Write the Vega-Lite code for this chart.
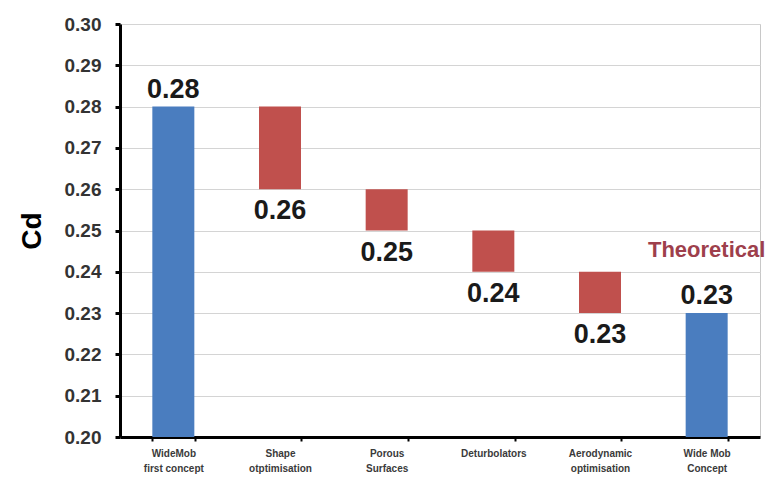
{
  "$schema": "https://vega.github.io/schema/vega-lite/v6.json",
  "autosize": {"type": "none"},
  "width": 640,
  "height": 413,
  "padding": {"left": 120, "top": 24, "right": 22, "bottom": 60},
  "background": "white",
  "config": {
    "view": {"stroke": "#c8c8c8", "strokeWidth": 1},
    "font": "Liberation Sans"
  },
  "data": {
    "values": [
      {"step": "WideMob|first concept", "lo": 0.20, "hi": 0.28, "value": 0.28, "kind": "total"},
      {"step": "Shape|otptimisation", "lo": 0.26, "hi": 0.28, "value": 0.26, "kind": "drop"},
      {"step": "Porous|Surfaces", "lo": 0.25, "hi": 0.26, "value": 0.25, "kind": "drop"},
      {"step": "Deturbolators", "lo": 0.24, "hi": 0.25, "value": 0.24, "kind": "drop"},
      {"step": "Aerodynamic|optimisation", "lo": 0.23, "hi": 0.24, "value": 0.23, "kind": "drop"},
      {"step": "Wide Mob|Concept", "lo": 0.20, "hi": 0.23, "value": 0.23, "kind": "total"}
    ]
  },
  "encoding": {
    "x": {
      "field": "step",
      "type": "nominal",
      "sort": null,
      "scale": {"paddingInner": 0.6, "paddingOuter": 0.3},
      "axis": {
        "title": null,
        "labelAngle": 0,
        "labelExpr": "split(datum.label, '|')",
        "labelFont": "Liberation Sans",
        "labelFontWeight": "bold",
        "labelFontSize": 10,
        "labelLineHeight": 15,
        "labelColor": "#3a3a3a",
        "labelPadding": 7,
        "domainColor": "black",
        "domainWidth": 3,
        "tickBand": "extent",
        "tickColor": "black",
        "tickWidth": 2,
        "tickSize": 4
      }
    }
  },
  "layer": [
    {
      "mark": {"type": "bar", "width": 42},
      "encoding": {
        "y": {
          "field": "lo",
          "type": "quantitative",
          "scale": {"domain": [0.2, 0.3], "zero": false, "nice": false},
          "axis": {
            "title": "Cd",
            "titleFont": "Liberation Sans",
            "titleFontSize": 28,
            "titleFontWeight": "bold",
            "titleColor": "black",
            "titlePadding": 18,
            "values": [0.2, 0.21, 0.22, 0.23, 0.24, 0.25, 0.26, 0.27, 0.28, 0.29, 0.3],
            "format": ".2f",
            "labelFont": "Liberation Sans",
            "labelFontSize": 19,
            "labelFontWeight": "bold",
            "labelColor": "#333333",
            "labelPadding": 14,
            "domainColor": "black",
            "domainWidth": 3,
            "tickColor": "black",
            "tickWidth": 3,
            "tickSize": 5,
            "grid": true,
            "gridColor": "#d4d4d4",
            "gridWidth": 1
          }
        },
        "y2": {"field": "hi"},
        "color": {
          "field": "kind",
          "type": "nominal",
          "scale": {"domain": ["total", "drop"], "range": ["#4a7dbf", "#c0504d"]},
          "legend": null
        }
      }
    },
    {
      "transform": [{"filter": "datum.kind === 'total'"}],
      "mark": {"type": "text", "baseline": "bottom", "dy": -3, "fontSize": 27, "fontWeight": "bold", "color": "#1a1a1a", "font": "Liberation Sans"},
      "encoding": {
        "y": {"field": "hi", "type": "quantitative"},
        "text": {"field": "value", "type": "quantitative", "format": ".2f"}
      }
    },
    {
      "transform": [{"filter": "datum.kind === 'drop'"}],
      "mark": {"type": "text", "baseline": "top", "dy": 9, "fontSize": 27, "fontWeight": "bold", "color": "#1a1a1a", "font": "Liberation Sans"},
      "encoding": {
        "y": {"field": "lo", "type": "quantitative"},
        "text": {"field": "value", "type": "quantitative", "format": ".2f"}
      }
    },
    {
      "data": {"values": [{"step": "Wide Mob|Concept", "y": 0.2453, "note": "Theoretical"}]},
      "mark": {"type": "text", "baseline": "middle", "fontSize": 22, "fontWeight": "bold", "color": "#9e3f4c", "font": "Liberation Sans"},
      "encoding": {
        "y": {"field": "y", "type": "quantitative"},
        "text": {"field": "note"}
      }
    }
  ]
}
